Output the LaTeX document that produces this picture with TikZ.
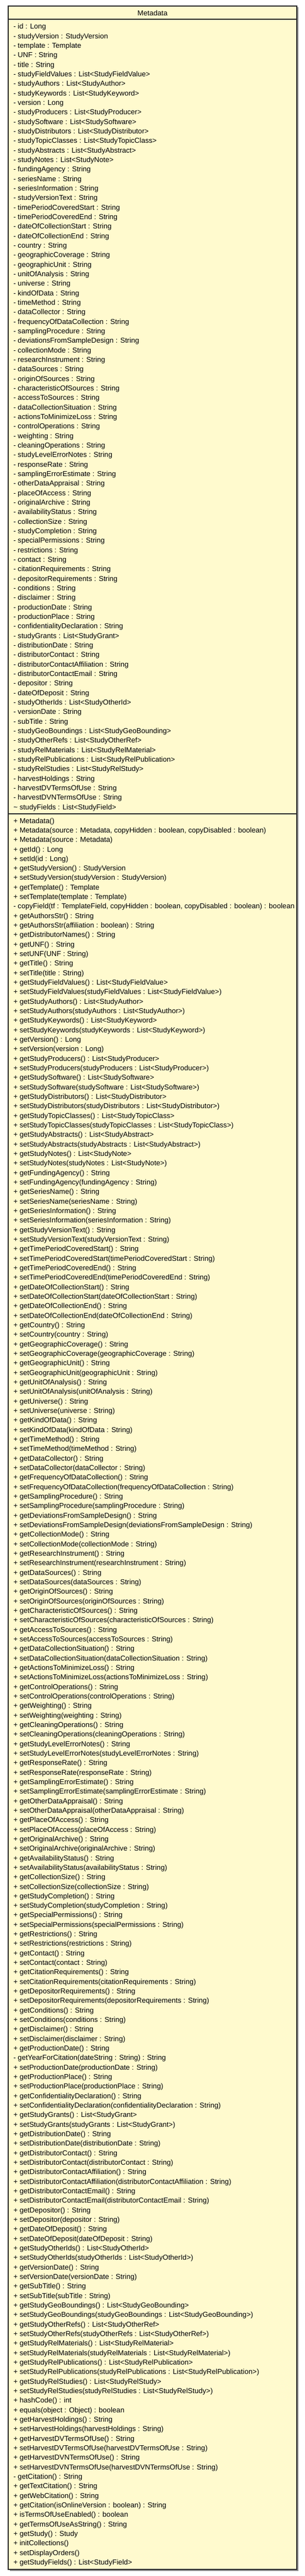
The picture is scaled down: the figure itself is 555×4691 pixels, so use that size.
\documentclass[tikz,border=0pt]{standalone}
\usepackage{fontspec}
\setmainfont{Liberation Sans}
\definecolor{umlfill}{RGB}{255,250,206}
\definecolor{umlborder}{RGB}{40,40,40}
\definecolor{umlshadow}{RGB}{150,150,150}
\newcounter{umlln}
\newcommand\umlrow[1]{%
  \edef\umlprev{L\arabic{umlln}}%
  \stepcounter{umlln}%
  \edef\umlcur{L\arabic{umlln}}%
  \node[umltext] (\umlcur) at ([yshift=-17.33pt]\umlprev.base west) {#1};}
\begin{document}
\begin{tikzpicture}[x=1pt,y=-1pt,
  umltext/.style={anchor=base west,inner sep=0pt,outer sep=0pt,text=black,
    font=\fontsize{13.1}{17.33}\selectfont},
  umlbox/.style={draw=umlborder,line width=1.4pt,fill=umlfill},
  umlsep/.style={draw=umlborder,line width=1.2pt}]
\useasboundingbox (0,0) rectangle (555,4691);
\fill[umlshadow] (17.5,13.5) rectangle (543.5,4681.5);
\draw[umlbox] (15,11) rectangle (541,4679);
\coordinate (s1l) at (15,35);
\coordinate (s1r) at (541,35);
\coordinate (s2l) at (15,1482);
\coordinate (s2r) at (541,1482);
\draw[umlsep] (s1l) -- (s1r);
\draw[umlsep] (s2l) -- (s2r);
\node[umltext,anchor=base] (title) at (278,29) {Metadata};
% attributes
\node[umltext] (L1) at (24.5,53) {- id : Long};
\setcounter{umlln}{1}
\umlrow{- studyVersion : StudyVersion}
\umlrow{- template : Template}
\umlrow{- UNF : String}
\umlrow{- title : String}
\umlrow{- studyFieldValues : List<StudyFieldValue>}
\umlrow{- studyAuthors : List<StudyAuthor>}
\umlrow{- studyKeywords : List<StudyKeyword>}
\umlrow{- version : Long}
\umlrow{- studyProducers : List<StudyProducer>}
\umlrow{- studySoftware : List<StudySoftware>}
\umlrow{- studyDistributors : List<StudyDistributor>}
\umlrow{- studyTopicClasses : List<StudyTopicClass>}
\umlrow{- studyAbstracts : List<StudyAbstract>}
\umlrow{- studyNotes : List<StudyNote>}
\umlrow{- fundingAgency : String}
\umlrow{- seriesName : String}
\umlrow{- seriesInformation : String}
\umlrow{- studyVersionText : String}
\umlrow{- timePeriodCoveredStart : String}
\umlrow{- timePeriodCoveredEnd : String}
\umlrow{- dateOfCollectionStart : String}
\umlrow{- dateOfCollectionEnd : String}
\umlrow{- country : String}
\umlrow{- geographicCoverage : String}
\umlrow{- geographicUnit : String}
\umlrow{- unitOfAnalysis : String}
\umlrow{- universe : String}
\umlrow{- kindOfData : String}
\umlrow{- timeMethod : String}
\umlrow{- dataCollector : String}
\umlrow{- frequencyOfDataCollection : String}
\umlrow{- samplingProcedure : String}
\umlrow{- deviationsFromSampleDesign : String}
\umlrow{- collectionMode : String}
\umlrow{- researchInstrument : String}
\umlrow{- dataSources : String}
\umlrow{- originOfSources : String}
\umlrow{- characteristicOfSources : String}
\umlrow{- accessToSources : String}
\umlrow{- dataCollectionSituation : String}
\umlrow{- actionsToMinimizeLoss : String}
\umlrow{- controlOperations : String}
\umlrow{- weighting : String}
\umlrow{- cleaningOperations : String}
\umlrow{- studyLevelErrorNotes : String}
\umlrow{- responseRate : String}
\umlrow{- samplingErrorEstimate : String}
\umlrow{- otherDataAppraisal : String}
\umlrow{- placeOfAccess : String}
\umlrow{- originalArchive : String}
\umlrow{- availabilityStatus : String}
\umlrow{- collectionSize : String}
\umlrow{- studyCompletion : String}
\umlrow{- specialPermissions : String}
\umlrow{- restrictions : String}
\umlrow{- contact : String}
\umlrow{- citationRequirements : String}
\umlrow{- depositorRequirements : String}
\umlrow{- conditions : String}
\umlrow{- disclaimer : String}
\umlrow{- productionDate : String}
\umlrow{- productionPlace : String}
\umlrow{- confidentialityDeclaration : String}
\umlrow{- studyGrants : List<StudyGrant>}
\umlrow{- distributionDate : String}
\umlrow{- distributorContact : String}
\umlrow{- distributorContactAffiliation : String}
\umlrow{- distributorContactEmail : String}
\umlrow{- depositor : String}
\umlrow{- dateOfDeposit : String}
\umlrow{- studyOtherIds : List<StudyOtherId>}
\umlrow{- versionDate : String}
\umlrow{- subTitle : String}
\umlrow{- studyGeoBoundings : List<StudyGeoBounding>}
\umlrow{- studyOtherRefs : List<StudyOtherRef>}
\umlrow{- studyRelMaterials : List<StudyRelMaterial>}
\umlrow{- studyRelPublications : List<StudyRelPublication>}
\umlrow{- studyRelStudies : List<StudyRelStudy>}
\umlrow{- harvestHoldings : String}
\umlrow{- harvestDVTermsOfUse : String}
\umlrow{- harvestDVNTermsOfUse : String}
\umlrow{\textasciitilde{} studyFields : List<StudyField>}
% methods
\stepcounter{umlln}
\edef\umlcur{L\arabic{umlln}}
\node[umltext] (\umlcur) at (24.5,1499) {+ Metadata()};
\umlrow{+ Metadata(source : Metadata, copyHidden : boolean, copyDisabled : boolean)}
\umlrow{+ Metadata(source : Metadata)}
\umlrow{+ getId() : Long}
\umlrow{+ setId(id : Long)}
\umlrow{+ getStudyVersion() : StudyVersion}
\umlrow{+ setStudyVersion(studyVersion : StudyVersion)}
\umlrow{+ getTemplate() : Template}
\umlrow{+ setTemplate(template : Template)}
\umlrow{- copyField(tf : TemplateField, copyHidden : boolean, copyDisabled : boolean) : boolean}
\umlrow{+ getAuthorsStr() : String}
\umlrow{+ getAuthorsStr(affiliation : boolean) : String}
\umlrow{+ getDistributorNames() : String}
\umlrow{+ getUNF() : String}
\umlrow{+ setUNF(UNF : String)}
\umlrow{+ getTitle() : String}
\umlrow{+ setTitle(title : String)}
\umlrow{+ getStudyFieldValues() : List<StudyFieldValue>}
\umlrow{+ setStudyFieldValues(studyFieldValues : List<StudyFieldValue>)}
\umlrow{+ getStudyAuthors() : List<StudyAuthor>}
\umlrow{+ setStudyAuthors(studyAuthors : List<StudyAuthor>)}
\umlrow{+ getStudyKeywords() : List<StudyKeyword>}
\umlrow{+ setStudyKeywords(studyKeywords : List<StudyKeyword>)}
\umlrow{+ getVersion() : Long}
\umlrow{+ setVersion(version : Long)}
\umlrow{+ getStudyProducers() : List<StudyProducer>}
\umlrow{+ setStudyProducers(studyProducers : List<StudyProducer>)}
\umlrow{+ getStudySoftware() : List<StudySoftware>}
\umlrow{+ setStudySoftware(studySoftware : List<StudySoftware>)}
\umlrow{+ getStudyDistributors() : List<StudyDistributor>}
\umlrow{+ setStudyDistributors(studyDistributors : List<StudyDistributor>)}
\umlrow{+ getStudyTopicClasses() : List<StudyTopicClass>}
\umlrow{+ setStudyTopicClasses(studyTopicClasses : List<StudyTopicClass>)}
\umlrow{+ getStudyAbstracts() : List<StudyAbstract>}
\umlrow{+ setStudyAbstracts(studyAbstracts : List<StudyAbstract>)}
\umlrow{+ getStudyNotes() : List<StudyNote>}
\umlrow{+ setStudyNotes(studyNotes : List<StudyNote>)}
\umlrow{+ getFundingAgency() : String}
\umlrow{+ setFundingAgency(fundingAgency : String)}
\umlrow{+ getSeriesName() : String}
\umlrow{+ setSeriesName(seriesName : String)}
\umlrow{+ getSeriesInformation() : String}
\umlrow{+ setSeriesInformation(seriesInformation : String)}
\umlrow{+ getStudyVersionText() : String}
\umlrow{+ setStudyVersionText(studyVersionText : String)}
\umlrow{+ getTimePeriodCoveredStart() : String}
\umlrow{+ setTimePeriodCoveredStart(timePeriodCoveredStart : String)}
\umlrow{+ getTimePeriodCoveredEnd() : String}
\umlrow{+ setTimePeriodCoveredEnd(timePeriodCoveredEnd : String)}
\umlrow{+ getDateOfCollectionStart() : String}
\umlrow{+ setDateOfCollectionStart(dateOfCollectionStart : String)}
\umlrow{+ getDateOfCollectionEnd() : String}
\umlrow{+ setDateOfCollectionEnd(dateOfCollectionEnd : String)}
\umlrow{+ getCountry() : String}
\umlrow{+ setCountry(country : String)}
\umlrow{+ getGeographicCoverage() : String}
\umlrow{+ setGeographicCoverage(geographicCoverage : String)}
\umlrow{+ getGeographicUnit() : String}
\umlrow{+ setGeographicUnit(geographicUnit : String)}
\umlrow{+ getUnitOfAnalysis() : String}
\umlrow{+ setUnitOfAnalysis(unitOfAnalysis : String)}
\umlrow{+ getUniverse() : String}
\umlrow{+ setUniverse(universe : String)}
\umlrow{+ getKindOfData() : String}
\umlrow{+ setKindOfData(kindOfData : String)}
\umlrow{+ getTimeMethod() : String}
\umlrow{+ setTimeMethod(timeMethod : String)}
\umlrow{+ getDataCollector() : String}
\umlrow{+ setDataCollector(dataCollector : String)}
\umlrow{+ getFrequencyOfDataCollection() : String}
\umlrow{+ setFrequencyOfDataCollection(frequencyOfDataCollection : String)}
\umlrow{+ getSamplingProcedure() : String}
\umlrow{+ setSamplingProcedure(samplingProcedure : String)}
\umlrow{+ getDeviationsFromSampleDesign() : String}
\umlrow{+ setDeviationsFromSampleDesign(deviationsFromSampleDesign : String)}
\umlrow{+ getCollectionMode() : String}
\umlrow{+ setCollectionMode(collectionMode : String)}
\umlrow{+ getResearchInstrument() : String}
\umlrow{+ setResearchInstrument(researchInstrument : String)}
\umlrow{+ getDataSources() : String}
\umlrow{+ setDataSources(dataSources : String)}
\umlrow{+ getOriginOfSources() : String}
\umlrow{+ setOriginOfSources(originOfSources : String)}
\umlrow{+ getCharacteristicOfSources() : String}
\umlrow{+ setCharacteristicOfSources(characteristicOfSources : String)}
\umlrow{+ getAccessToSources() : String}
\umlrow{+ setAccessToSources(accessToSources : String)}
\umlrow{+ getDataCollectionSituation() : String}
\umlrow{+ setDataCollectionSituation(dataCollectionSituation : String)}
\umlrow{+ getActionsToMinimizeLoss() : String}
\umlrow{+ setActionsToMinimizeLoss(actionsToMinimizeLoss : String)}
\umlrow{+ getControlOperations() : String}
\umlrow{+ setControlOperations(controlOperations : String)}
\umlrow{+ getWeighting() : String}
\umlrow{+ setWeighting(weighting : String)}
\umlrow{+ getCleaningOperations() : String}
\umlrow{+ setCleaningOperations(cleaningOperations : String)}
\umlrow{+ getStudyLevelErrorNotes() : String}
\umlrow{+ setStudyLevelErrorNotes(studyLevelErrorNotes : String)}
\umlrow{+ getResponseRate() : String}
\umlrow{+ setResponseRate(responseRate : String)}
\umlrow{+ getSamplingErrorEstimate() : String}
\umlrow{+ setSamplingErrorEstimate(samplingErrorEstimate : String)}
\umlrow{+ getOtherDataAppraisal() : String}
\umlrow{+ setOtherDataAppraisal(otherDataAppraisal : String)}
\umlrow{+ getPlaceOfAccess() : String}
\umlrow{+ setPlaceOfAccess(placeOfAccess : String)}
\umlrow{+ getOriginalArchive() : String}
\umlrow{+ setOriginalArchive(originalArchive : String)}
\umlrow{+ getAvailabilityStatus() : String}
\umlrow{+ setAvailabilityStatus(availabilityStatus : String)}
\umlrow{+ getCollectionSize() : String}
\umlrow{+ setCollectionSize(collectionSize : String)}
\umlrow{+ getStudyCompletion() : String}
\umlrow{+ setStudyCompletion(studyCompletion : String)}
\umlrow{+ getSpecialPermissions() : String}
\umlrow{+ setSpecialPermissions(specialPermissions : String)}
\umlrow{+ getRestrictions() : String}
\umlrow{+ setRestrictions(restrictions : String)}
\umlrow{+ getContact() : String}
\umlrow{+ setContact(contact : String)}
\umlrow{+ getCitationRequirements() : String}
\umlrow{+ setCitationRequirements(citationRequirements : String)}
\umlrow{+ getDepositorRequirements() : String}
\umlrow{+ setDepositorRequirements(depositorRequirements : String)}
\umlrow{+ getConditions() : String}
\umlrow{+ setConditions(conditions : String)}
\umlrow{+ getDisclaimer() : String}
\umlrow{+ setDisclaimer(disclaimer : String)}
\umlrow{+ getProductionDate() : String}
\umlrow{- getYearForCitation(dateString : String) : String}
\umlrow{+ setProductionDate(productionDate : String)}
\umlrow{+ getProductionPlace() : String}
\umlrow{+ setProductionPlace(productionPlace : String)}
\umlrow{+ getConfidentialityDeclaration() : String}
\umlrow{+ setConfidentialityDeclaration(confidentialityDeclaration : String)}
\umlrow{+ getStudyGrants() : List<StudyGrant>}
\umlrow{+ setStudyGrants(studyGrants : List<StudyGrant>)}
\umlrow{+ getDistributionDate() : String}
\umlrow{+ setDistributionDate(distributionDate : String)}
\umlrow{+ getDistributorContact() : String}
\umlrow{+ setDistributorContact(distributorContact : String)}
\umlrow{+ getDistributorContactAffiliation() : String}
\umlrow{+ setDistributorContactAffiliation(distributorContactAffiliation : String)}
\umlrow{+ getDistributorContactEmail() : String}
\umlrow{+ setDistributorContactEmail(distributorContactEmail : String)}
\umlrow{+ getDepositor() : String}
\umlrow{+ setDepositor(depositor : String)}
\umlrow{+ getDateOfDeposit() : String}
\umlrow{+ setDateOfDeposit(dateOfDeposit : String)}
\umlrow{+ getStudyOtherIds() : List<StudyOtherId>}
\umlrow{+ setStudyOtherIds(studyOtherIds : List<StudyOtherId>)}
\umlrow{+ getVersionDate() : String}
\umlrow{+ setVersionDate(versionDate : String)}
\umlrow{+ getSubTitle() : String}
\umlrow{+ setSubTitle(subTitle : String)}
\umlrow{+ getStudyGeoBoundings() : List<StudyGeoBounding>}
\umlrow{+ setStudyGeoBoundings(studyGeoBoundings : List<StudyGeoBounding>)}
\umlrow{+ getStudyOtherRefs() : List<StudyOtherRef>}
\umlrow{+ setStudyOtherRefs(studyOtherRefs : List<StudyOtherRef>)}
\umlrow{+ getStudyRelMaterials() : List<StudyRelMaterial>}
\umlrow{+ setStudyRelMaterials(studyRelMaterials : List<StudyRelMaterial>)}
\umlrow{+ getStudyRelPublications() : List<StudyRelPublication>}
\umlrow{+ setStudyRelPublications(studyRelPublications : List<StudyRelPublication>)}
\umlrow{+ getStudyRelStudies() : List<StudyRelStudy>}
\umlrow{+ setStudyRelStudies(studyRelStudies : List<StudyRelStudy>)}
\umlrow{+ hashCode() : int}
\umlrow{+ equals(object : Object) : boolean}
\umlrow{+ getHarvestHoldings() : String}
\umlrow{+ setHarvestHoldings(harvestHoldings : String)}
\umlrow{+ getHarvestDVTermsOfUse() : String}
\umlrow{+ setHarvestDVTermsOfUse(harvestDVTermsOfUse : String)}
\umlrow{+ getHarvestDVNTermsOfUse() : String}
\umlrow{+ setHarvestDVNTermsOfUse(harvestDVNTermsOfUse : String)}
\umlrow{- getCitation() : String}
\umlrow{+ getTextCitation() : String}
\umlrow{+ getWebCitation() : String}
\umlrow{+ getCitation(isOnlineVersion : boolean) : String}
\umlrow{+ isTermsOfUseEnabled() : boolean}
\umlrow{+ getTermsOfUseAsString() : String}
\umlrow{+ getStudy() : Study}
\umlrow{+ initCollections()}
\umlrow{+ setDisplayOrders()}
\umlrow{+ getStudyFields() : List<StudyField>}
\end{tikzpicture}
\end{document}
